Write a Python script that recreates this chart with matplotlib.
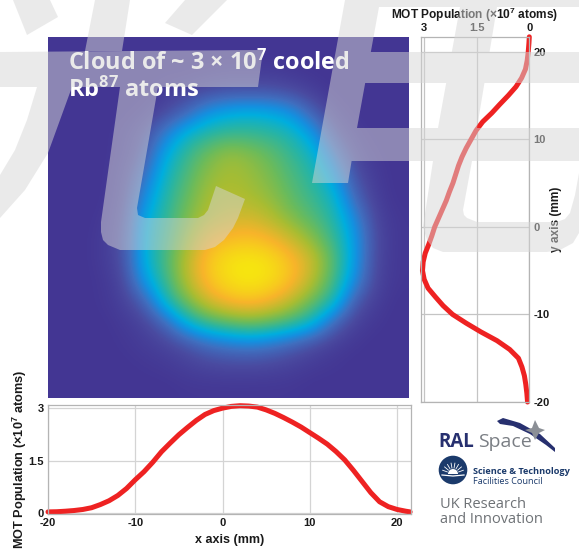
"""
MOT cloud image with x and y population profiles
"""
import numpy as np
import matplotlib
matplotlib.use('Agg')
import matplotlib.pyplot as plt
from matplotlib import rcParams
from matplotlib.colors import LinearSegmentedColormap
from matplotlib.path import Path
from matplotlib.patches import PathPatch, Circle, Polygon, Wedge

rcParams['font.family'] = ['Liberation Sans', 'DejaVu Sans']
rcParams['mathtext.default'] = 'regular'
rcParams['axes.unicode_minus'] = False

W, H = 579, 550

# profile along x (mm, 1e7 atoms)
x_pos = [-20, -19, -18, -17, -16, -15, -14, -13, -12, -11, -10, -9, -8, -7, -6, -5, -4, -3, -2, -1, 0,
         1, 2, 3, 4, 5, 6, 7, 8, 9, 10, 11, 12, 13, 14, 15, 16, 17, 18, 19, 20, 21, 21.5]
x_pop = [0.03, 0.035, 0.05, 0.07, 0.1, 0.15, 0.24, 0.35, 0.5, 0.7, 0.95, 1.18, 1.45, 1.75, 2.0, 2.24, 2.45, 2.65, 2.82, 2.93, 3.0,
         3.05, 3.07, 3.06, 3.03, 2.95, 2.85, 2.73, 2.6, 2.46, 2.3, 2.14, 1.97, 1.76, 1.52, 1.22, 0.9, 0.58, 0.32, 0.18, 0.1, 0.05, 0.03]

# profile along y (mm, 1e7 atoms)
y_pos = [21.7, 21, 20, 19, 18, 17, 16, 15, 14, 13, 12, 11, 10, 9, 8, 7, 6, 5, 4, 3, 2, 1, 0,
         -1, -2, -3, -4, -5, -6, -7, -8, -9, -10, -11, -12, -13, -14, -15, -16, -17, -18, -19, -20]
y_pop = [0, 0.01, 0.03, 0.06, 0.11, 0.22, 0.38, 0.6, 0.84, 1.07, 1.33, 1.52, 1.66, 1.8, 1.92, 2.02, 2.1, 2.18, 2.28, 2.37, 2.48, 2.59, 2.7,
         2.78, 2.87, 2.97, 3.03, 3.05, 3.0, 2.89, 2.68, 2.46, 2.19, 1.8, 1.38, 0.92, 0.56, 0.31, 0.21, 0.14, 0.1, 0.07, 0.05]

x_ticks = [-20, -10, 0, 10, 20]
y_ticks = [-20, -10, 0, 10, 20]
pop_ticks = [0, 1.5, 3]
pop_labels = ['0', '1.5', '3']

# cloud intensity, coarse grid
cloud = [
    [0, 0, 0, 0, 0, 0, 0, 0, 0, 0, 0, 0, 0, 0, 0, 0, 0],
    [0, 0, 0, 0, 0, 0, 0, 0.01, 0.02, 0.02, 0.02, 0.01, 0, 0, 0, 0, 0],
    [0, 0, 0, 0, 0, 0.03, 0.05, 0.08, 0.1, 0.1, 0.1, 0.07, 0.03, 0, 0, 0, 0],
    [0, 0, 0, 0, 0.02, 0.07, 0.16, 0.3, 0.36, 0.38, 0.36, 0.3, 0.14, 0.03, 0, 0, 0],
    [0, 0, 0, 0.02, 0.08, 0.24, 0.4, 0.47, 0.5, 0.5, 0.48, 0.44, 0.32, 0.1, 0.02, 0, 0],
    [0, 0, 0, 0.02, 0.12, 0.36, 0.5, 0.6, 0.68, 0.64, 0.58, 0.5, 0.42, 0.22, 0.05, 0.01, 0],
    [0, 0, 0, 0.04, 0.2, 0.42, 0.54, 0.66, 0.7, 0.68, 0.62, 0.54, 0.47, 0.33, 0.1, 0.02, 0],
    [0, 0, 0, 0.05, 0.28, 0.46, 0.58, 0.7, 0.72, 0.7, 0.66, 0.57, 0.5, 0.42, 0.16, 0.03, 0],
    [0, 0, 0.01, 0.07, 0.36, 0.48, 0.62, 0.72, 0.76, 0.78, 0.72, 0.63, 0.55, 0.46, 0.27, 0.05, 0.01],
    [0, 0, 0.02, 0.09, 0.38, 0.5, 0.67, 0.83, 0.87, 0.89, 0.85, 0.76, 0.64, 0.5, 0.32, 0.07, 0.01],
    [0, 0, 0.02, 0.09, 0.38, 0.53, 0.73, 0.9, 0.98, 1.0, 0.97, 0.88, 0.76, 0.55, 0.32, 0.06, 0.01],
    [0, 0, 0.01, 0.06, 0.32, 0.5, 0.72, 0.89, 0.97, 1.0, 0.97, 0.88, 0.72, 0.52, 0.28, 0.05, 0.01],
    [0, 0, 0.01, 0.04, 0.14, 0.42, 0.6, 0.77, 0.86, 0.89, 0.84, 0.73, 0.58, 0.44, 0.12, 0.03, 0],
    [0, 0, 0, 0.02, 0.05, 0.16, 0.38, 0.5, 0.56, 0.6, 0.56, 0.5, 0.4, 0.16, 0.04, 0.01, 0],
    [0, 0, 0, 0.01, 0.03, 0.05, 0.1, 0.18, 0.22, 0.24, 0.21, 0.15, 0.08, 0.03, 0.01, 0, 0],
    [0, 0, 0, 0, 0.01, 0.02, 0.04, 0.06, 0.07, 0.07, 0.06, 0.04, 0.02, 0.01, 0, 0, 0],
    [0, 0, 0, 0, 0, 0, 0.01, 0.01, 0.01, 0.01, 0.01, 0.01, 0, 0, 0, 0, 0],
]

cloud_cmap = LinearSegmentedColormap.from_list('cloud', [
    (0.0, '#433693'), (0.08, '#4a4aa0'), (0.2, '#3f6fc0'), (0.3, '#1490e0'),
    (0.38, '#00aede'), (0.48, '#2bb5a0'), (0.6, '#6cbb5a'), (0.7, '#a8bd32'),
    (0.85, '#f8b42a'), (1.0, '#f6e90e'),
])

# grey watermark strokes, in image pixels
watermark = [
    [(13, 0), (27, 35), (58, 17), (50, 0)],
    [(165, 23), (192, 35), (227, 0), (185, 0)],
    [(0, 52), (263, 50), (258, 87), (0, 87)],
    [(37, 87), (72, 87), (60, 120), (48, 153), (25, 190), (0, 218), (0, 175), (15, 150), (27, 120)],
    [(95, 0), (130, 0), (122, 51), (85, 51)],
    [(120, 87), (158, 87), (137, 208), (138, 215), (145, 218), (198, 218), (204, 215), (208, 210), (216, 186),
     (245, 199), (238, 218), (233, 228), (224, 240), (215, 247), (205, 250), (120, 250), (108, 245), (103, 240), (101, 232), (101, 222)],
    [(345, 0), (579, 0), (579, 7), (379, 7), (357, 128), (348, 183), (312, 183)],
    [(368, 52), (579, 52), (579, 83), (362, 83)],
    [(460, 7), (497, 7), (477, 128), (438, 128)],
    [(352, 128), (579, 128), (579, 161), (346, 161)],
    [(433, 161), (472, 161), (463, 210), (464, 215), (467, 218), (477, 222), (557, 222), (565, 219), (570, 213), (575, 195), (579, 173),
     (579, 233), (573, 243), (560, 250), (547, 252), (443, 252), (433, 248), (427, 240), (423, 227)],
]


def px_axes(fig, left, top, right, bottom, **kwargs):
    # axes placed by pixel edges, y counted from the top of the image
    return fig.add_axes([left / W, 1 - bottom / H, (right - left) / W, (bottom - top) / H], **kwargs)


def style_profile(ax):
    ax.grid(True, color='#d4d4d4', linewidth=0.9)
    ax.set_axisbelow(True)
    ax.tick_params(length=0, labelsize=8, colors='#1a1a1a', pad=3)
    for label in ax.get_xticklabels() + ax.get_yticklabels():
        label.set_fontweight('bold')
    for spine in ax.spines.values():
        spine.set_color('#b4b4b4')
        spine.set_linewidth(0.9)


fig = plt.figure(figsize=(W / 100, H / 100), dpi=100)

# cloud image
ax_img = px_axes(fig, 48, 37, 409, 398)
ax_img.imshow(cloud, cmap=cloud_cmap, vmin=0, vmax=1, interpolation='bicubic', aspect='auto')
ax_img.set_xticks([])
ax_img.set_yticks([])
for spine in ax_img.spines.values():
    spine.set_visible(False)
ax_img.text(20 / 361, 1 - 33 / 361, 'Cloud of ~ 3 × 10$^{7}$ cooled', transform=ax_img.transAxes,
            color='white', fontsize=16.9, fontfamily='Open Sans', fontweight='bold', va='baseline')
ax_img.text(20 / 361, 1 - 60 / 361, 'Rb$^{87}$ atoms', transform=ax_img.transAxes,
            color='white', fontsize=16.9, fontfamily='Open Sans', fontweight='bold', va='baseline')

# profile along x
ax_x = px_axes(fig, 48, 405, 411, 514)
ax_x.plot(x_pos, x_pop, color='#ee2222', linewidth=3.6, solid_capstyle='round', clip_on=False)
ax_x.set_xlim(-20, 21.6)
ax_x.set_ylim(-0.03, 3.09)
ax_x.set_xticks(x_ticks)
ax_x.set_yticks(pop_ticks)
ax_x.set_yticklabels(pop_labels)
style_profile(ax_x)
ax_x.set_xlabel('x axis (mm)', fontsize=9, fontweight='bold', color='#1a1a1a')
ax_x.xaxis.set_label_coords(0.5, -0.24, transform=ax_x.transAxes)
ax_x.xaxis.label.set_va('center')
ax_x.set_ylabel('MOT Population (×10$^{7}$ atoms)', fontsize=9.2, fontweight='bold', color='#1a1a1a')
ax_x.yaxis.set_label_coords(-28 / 363, 0.5, transform=ax_x.transAxes)
ax_x.yaxis.label.set_va('center')

# profile along y
ax_y = px_axes(fig, 420.7, 37, 529.3, 402)
ax_y.plot(y_pop, y_pos, color='#ee2222', linewidth=3.6, solid_capstyle='round', clip_on=False)
ax_y.set_xlim(3.1, 0)
ax_y.set_ylim(-20, 21.68)
ax_y.set_xticks(pop_ticks)
ax_y.set_xticklabels(pop_labels)
ax_y.set_yticks(y_ticks)
ax_y.xaxis.tick_top()
ax_y.yaxis.tick_right()
style_profile(ax_y)
ax_y.grid(True, color='#c4c4c4', linewidth=0.9)
ax_y.xaxis.set_label_position('top')
ax_y.set_xlabel('MOT Population (×10$^{7}$ atoms)', fontsize=8.6, fontweight='bold', color='#1a1a1a')
ax_y.xaxis.set_label_coords(0.5, 1 + 22 / 365, transform=ax_y.transAxes)
ax_y.xaxis.label.set_va('center')
ax_y.yaxis.set_label_position('right')
ax_y.set_ylabel('y axis (mm)', fontsize=8.6, fontweight='bold', color='#1a1a1a')
ax_y.yaxis.set_label_coords(1 + 27 / 108.6, 0.5, transform=ax_y.transAxes)
ax_y.yaxis.label.set_va('center')

# logos and watermark share one full-size overlay in pixel coordinates
ax_top = fig.add_axes([0, 0, 1, 1], zorder=10)
ax_top.set_xlim(0, W)
ax_top.set_ylim(H, 0)
ax_top.axis('off')
ax_top.patch.set_alpha(0)

navy = '#27306f'
grey = '#7a7e84'
ax_top.text(438, 447, 'RAL', color=navy, fontsize=13.5, fontweight='bold', fontfamily='Open Sans')
ax_top.text(478, 447, 'Space', color=grey, fontsize=14, fontfamily='Open Sans')
ax_top.add_patch(Polygon([(497, 421), (503, 418), (520, 423), (540, 434), (555, 448), (555, 452),
                          (546, 445), (530, 434), (513, 426), (500, 424)], color=navy, lw=0))
ax_top.add_patch(Polygon([(535, 420), (539, 428), (545, 430), (539, 433), (535, 440),
                          (532, 433), (525, 430), (532, 428)], color='#8b8f96', lw=0))

sun = '#1b3a6b'
ax_top.add_patch(Circle((453, 470), 14.3, color=sun, lw=0))
ax_top.add_patch(Wedge((453, 474), 5, 180, 360, color='white', lw=0))
for angle in np.radians(np.arange(200, 345, 20)):
    ax_top.plot([453 + 6 * np.cos(angle), 453 + 11 * np.cos(angle)],
                [474 + 6 * np.sin(angle), 474 + 11 * np.sin(angle)], color='white', lw=0.6)
ax_top.plot([442, 453, 464], [475, 476, 475], color='white', lw=0.9)
ax_top.text(473, 474, 'Science & Technology', color=sun, fontsize=6.6, fontweight='bold', fontfamily='Open Sans')
ax_top.text(473, 484, 'Facilities Council', color=sun, fontsize=6.6, fontfamily='Open Sans')

ax_top.text(440, 508, 'UK Research', color='#6e7276', fontsize=10.5, fontfamily='Open Sans')
ax_top.text(440, 523, 'and Innovation', color='#6e7276', fontsize=10.5, fontfamily='Open Sans')

# one compound path with one winding so overlaps do not darken
verts, codes = [], []
for shape in watermark:
    pts = np.array(shape, dtype=float)
    x, y = pts[:, 0], pts[:, 1]
    if np.dot(x, np.roll(y, -1)) - np.dot(y, np.roll(x, -1)) < 0:
        pts = pts[::-1]
    verts.extend(pts.tolist() + [pts[0].tolist()])
    codes.extend([Path.MOVETO] + [Path.LINETO] * (len(pts) - 1) + [Path.CLOSEPOLY])
ax_top.add_patch(PathPatch(Path(verts, codes), facecolor='#d6d6d6', edgecolor='none', alpha=0.5))

fig.savefig('out.png', dpi=100)
plt.close(fig)
